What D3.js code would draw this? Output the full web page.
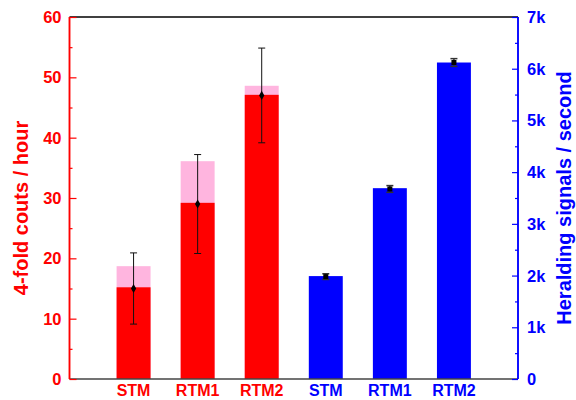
<!DOCTYPE html>
<html>
<head>
<meta charset="utf-8">
<script src="https://cdn.jsdelivr.net/npm/d3@7"></script>
<style>
  body { margin: 0; background: #fff; }
  svg { display: block; font-family: "Liberation Sans", Arial, sans-serif; font-weight: bold; }
</style>
</head>
<body>
<div id="chart"></div>
<script>
// DATA
const categories = ["STM", "RTM1", "RTM2", "STM ", "RTM1 ", "RTM2 "];
const labels = ["STM", "RTM1", "RTM2", "STM", "RTM1", "RTM2"];

// 4-fold counts / hour (left axis)
const fourFoldTotal = [18.7, 36.1, 48.6];     // light pink bars
const fourFoldBars  = [15.2, 29.2, 47.1];     // red bars
const fourFoldMean  = [15.0, 29.0, 47.0];
const fourFoldErr   = [5.9, 8.2, 7.85];

// heralding signals / second (right axis)
const heraldBars = [1990, 3690, 6120];
const heraldMean = [1980, 3675, 6120];
const heraldErr  = [55, 65, 75];

const leftTicks  = [0, 10, 20, 30, 40, 50, 60];
const rightTicks = [0, 1000, 2000, 3000, 4000, 5000, 6000, 7000];
const rightTickLabels = ["0", "1k", "2k", "3k", "4k", "5k", "6k", "7k"];

// SETUP
const W = 576, H = 400;
const margin = { top: 17, right: 58, bottom: 21, left: 69.5 };
const RED = "#ff0000", BLUE = "#0000ff", PINK = "#ffb5df";

const svg = d3.select("#chart").append("svg")
    .attr("width", W).attr("height", H);

const x = d3.scalePoint().domain(categories)
    .range([margin.left, W - margin.right]).padding(1);
const yL = d3.scaleLinear().domain([0, 60]).range([H - margin.bottom, margin.top]);
const yR = d3.scaleLinear().domain([0, 7000]).range([H - margin.bottom, margin.top]);
const bw = x.step() * 0.53;

const redData = d3.range(3).map(i => ({
    c: categories[i], total: fourFoldTotal[i], bar: fourFoldBars[i],
    mean: fourFoldMean[i], err: fourFoldErr[i]
}));
const blueData = d3.range(3).map(i => ({
    c: categories[i + 3], bar: heraldBars[i], mean: heraldMean[i], err: heraldErr[i]
}));

// BARS
svg.append("g").selectAll("rect").data(redData).enter().append("rect")
    .attr("x", d => x(d.c) - bw / 2).attr("width", bw)
    .attr("y", d => yL(d.total)).attr("height", d => yL(0) - yL(d.total))
    .attr("fill", PINK);
svg.append("g").selectAll("rect").data(redData).enter().append("rect")
    .attr("x", d => x(d.c) - bw / 2).attr("width", bw)
    .attr("y", d => yL(d.bar)).attr("height", d => yL(0) - yL(d.bar))
    .attr("fill", RED);
svg.append("g").selectAll("rect").data(blueData).enter().append("rect")
    .attr("x", d => x(d.c) - bw / 2).attr("width", bw)
    .attr("y", d => yR(d.bar)).attr("height", d => yR(0) - yR(d.bar))
    .attr("fill", BLUE);

// ERROR BARS
function errorBars(data, y, cap, sw, color) {
    const g = svg.append("g").attr("stroke", color).attr("stroke-width", sw);
    const e = g.selectAll("g").data(data).enter().append("g");
    e.append("line")
        .attr("x1", d => x(d.c)).attr("x2", d => x(d.c))
        .attr("y1", d => y(d.mean - d.err)).attr("y2", d => y(d.mean + d.err));
    e.append("line")
        .attr("x1", d => x(d.c) - cap).attr("x2", d => x(d.c) + cap)
        .attr("y1", d => y(d.mean + d.err)).attr("y2", d => y(d.mean + d.err));
    e.append("line")
        .attr("x1", d => x(d.c) - cap).attr("x2", d => x(d.c) + cap)
        .attr("y1", d => y(d.mean - d.err)).attr("y2", d => y(d.mean - d.err));
}
errorBars(redData, yL, 3.5, 1, "#111");
errorBars(blueData, yR, 3.5, 1.5, "#333");

svg.append("g").selectAll("path").data(redData).enter().append("path")
    .attr("transform", d => `translate(${x(d.c)},${yL(d.mean)})`)
    .attr("d", d3.symbol(d3.symbolDiamond, 24))
    .attr("fill", "#000");
svg.append("g").selectAll("rect").data(blueData).enter().append("rect")
    .attr("x", d => x(d.c) - 2.5).attr("y", d => yR(d.mean) - 2.5)
    .attr("width", 5).attr("height", 5)
    .attr("fill", "#000");

// AXES
const x0 = margin.left, x1 = W - margin.right;
const yTop = margin.top, yBot = H - margin.bottom;

svg.append("line").attr("x1", x0).attr("x2", x1).attr("y1", yTop).attr("y2", yTop)
    .attr("stroke", "#000").attr("stroke-width", 1.5);
svg.append("line").attr("x1", x0).attr("x2", x1).attr("y1", yBot).attr("y2", yBot)
    .attr("stroke", "#444").attr("stroke-width", 1.5);

// left axis
const gL = svg.append("g").attr("transform", `translate(${x0},0)`)
    .call(d3.axisRight(yL).tickValues(leftTicks).tickSize(7).tickFormat(""));
gL.append("g").call(d3.axisRight(yL).tickValues(d3.range(5, 60, 10)).tickSize(3).tickFormat(""));
gL.selectAll(".domain").attr("d", `M0,${yTop}V${yBot}`);
gL.selectAll("path, line").attr("stroke", RED).attr("stroke-width", 1.5);
gL.selectAll(".tick line").attr("stroke-width", 1.2);
svg.append("g").selectAll("text").data(leftTicks).enter().append("text")
    .attr("x", x0 - 8).attr("y", d => yL(d)).attr("dy", "0.36em")
    .attr("text-anchor", "end").attr("fill", RED).attr("font-size", 16.5)
    .text(d => d);

// right axis
const gR = svg.append("g").attr("transform", `translate(${x1},0)`)
    .call(d3.axisLeft(yR).tickValues(rightTicks).tickSize(6).tickFormat(""));
gR.append("g").call(d3.axisLeft(yR).tickValues(d3.range(500, 7000, 1000)).tickSize(3).tickFormat(""));
gR.selectAll(".domain").attr("d", `M0,${yTop}V${yBot}`);
gR.selectAll("path, line").attr("stroke", BLUE).attr("stroke-width", 1.5);
gR.selectAll(".tick line").attr("stroke-width", 1.2);
svg.append("g").selectAll("text").data(rightTicks).enter().append("text")
    .attr("x", x1 + 9).attr("y", d => yR(d)).attr("dy", "0.36em")
    .attr("text-anchor", "start").attr("fill", BLUE).attr("font-size", 16.5)
    .text((d, i) => rightTickLabels[i]);

// category labels
svg.append("g").selectAll("text").data(categories).enter().append("text")
    .attr("x", d => x(d)).attr("y", 396)
    .attr("text-anchor", "middle").attr("font-size", 16)
    .attr("fill", (d, i) => i < 3 ? RED : BLUE)
    .text((d, i) => labels[i]);

// axis titles
svg.append("text")
    .attr("transform", `translate(27.5,${(yTop + yBot) / 2 + 10}) rotate(-90)`)
    .attr("text-anchor", "middle").attr("fill", RED).attr("font-size", 20)
    .text("4-fold couts / hour");
svg.append("text")
    .attr("transform", `translate(570.5,${(yTop + yBot) / 2}) rotate(-90)`)
    .attr("text-anchor", "middle").attr("fill", BLUE).attr("font-size", 20)
    .text("Heralding signals / second");
</script>
</body>
</html>
